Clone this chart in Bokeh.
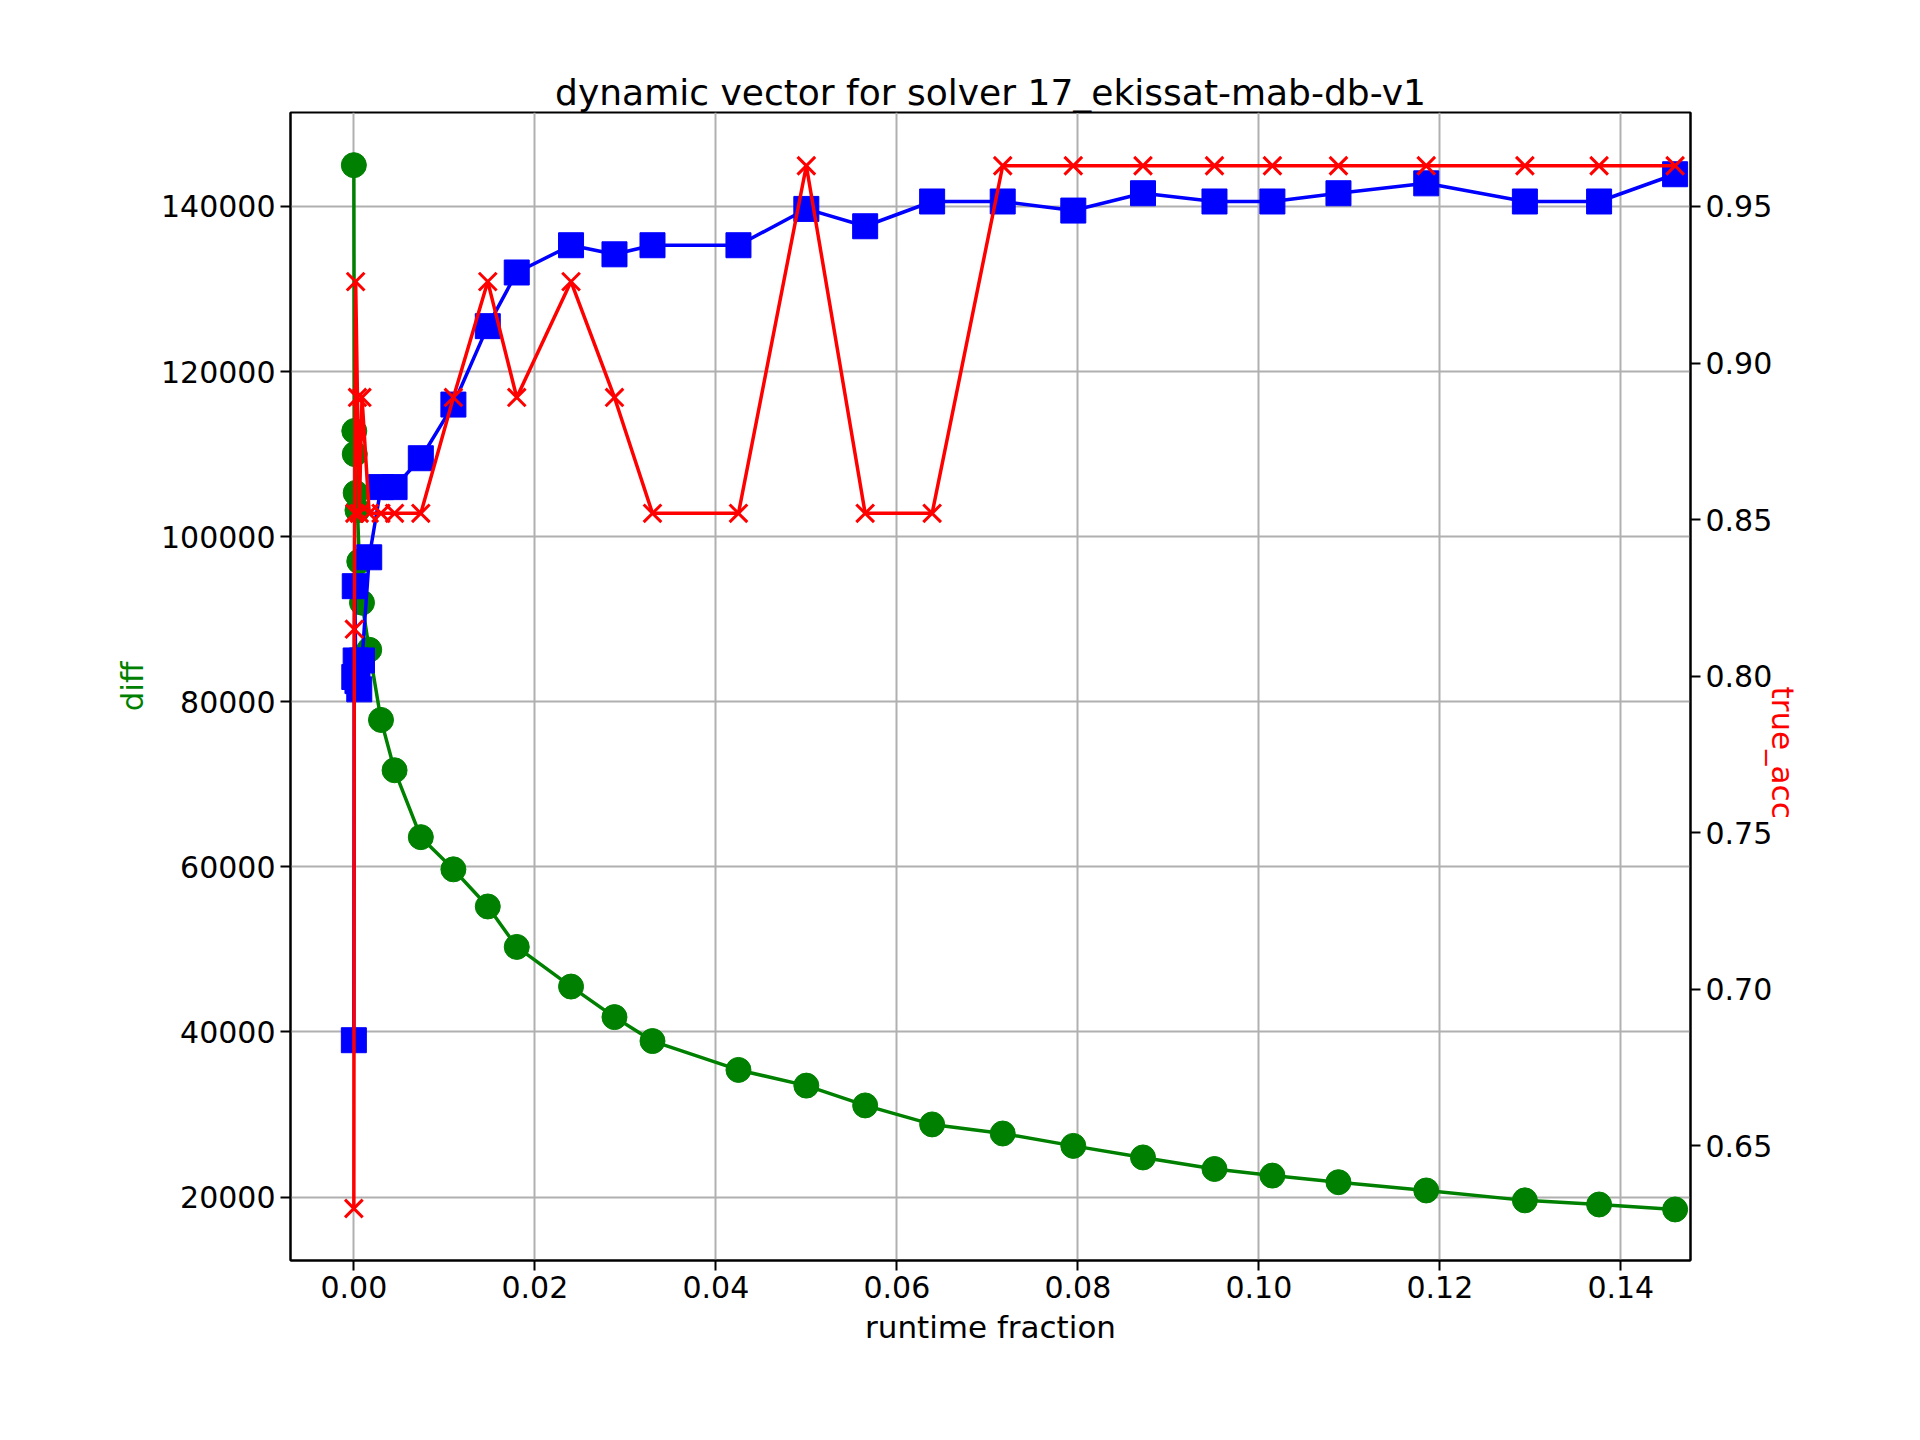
import math
from bokeh.plotting import figure
from bokeh.models import Range1d, LinearAxis, FixedTicker
from bokeh.embed import file_html
from bokeh.resources import INLINE

runtime = [0.0, 0.00005, 0.0001, 0.0002, 0.0004, 0.0006, 0.0009,
           0.0017, 0.003, 0.0045, 0.0074, 0.011, 0.0148, 0.018, 0.024, 0.0288,
           0.033, 0.0425, 0.05, 0.0565, 0.0639, 0.0717, 0.0795, 0.0872, 0.0951,
           0.1015, 0.1088, 0.1185, 0.1294, 0.1376, 0.146]
diff = [145000, 112800, 110000, 105300, 103200, 97000, 92000,
        86300, 77800, 71700, 63600, 59700, 55200, 50300, 45500, 41800,
        38900, 35400, 33500, 31100, 28800, 27700, 26200, 24800, 23400,
        22600, 21800, 20800, 19600, 19100, 18500]
pred = [39000, 83000, 94000, 85000, 82500, 81500, 85000,
        97500, 106000, 106000, 109500, 116000, 125500, 132000, 135300, 134200,
        135300, 135300, 139700, 137600, 140600, 140600, 139500, 141600, 140600,
        140600, 141600, 142800, 140600, 140600, 143900]
true_acc = [0.630, 0.815, 0.852, 0.926, 0.889, 0.852, 0.889,
            0.852, 0.852, 0.852, 0.852, 0.889, 0.926, 0.889, 0.926, 0.889,
            0.852, 0.852, 0.963, 0.852, 0.852, 0.963, 0.963, 0.963, 0.963,
            0.963, 0.963, 0.963, 0.963, 0.963, 0.963]

FONT = "DejaVu Sans"
p = figure(width=1900, height=1420, output_backend="svg", toolbar_location=None,
           title="dynamic vector for solver 17_ekissat-mab-db-v1",
           x_range=Range1d(-0.0070, 0.1477), y_range=Range1d(12316, 151380),
           x_axis_label="runtime fraction", y_axis_label="diff",
           min_border_left=290, min_border_right=210, min_border_top=112, min_border_bottom=160)
p.title.align = "center"
p.title.text_font = FONT
p.title.text_font_size = "36px"
p.title.text_font_style = "normal"
p.title.text_color = "black"
p.title.standoff = 0
p.extra_y_ranges = {"acc": Range1d(0.6134, 0.980)}

p.line(runtime, diff, color="green", line_width=3.5)
p.scatter(runtime, diff, color="green", size=25)
p.line(runtime, pred, color="blue", line_width=3.5)
p.scatter(runtime, pred, color="blue", marker="square", size=25)
p.line(runtime, true_acc, color="red", line_width=3.5, y_range_name="acc")
p.scatter(runtime, true_acc, color="red", marker="x", size=25, line_width=3, y_range_name="acc")

right = LinearAxis(y_range_name="acc", axis_label="true_acc")
right.ticker = FixedTicker(ticks=[0.65, 0.70, 0.75, 0.80, 0.85, 0.90, 0.95])
p.add_layout(right, "right")
p.xaxis.ticker = FixedTicker(ticks=[0, 0.02, 0.04, 0.06, 0.08, 0.10, 0.12, 0.14])
p.xaxis.major_label_overrides = {0: "0.00", 0.02: "0.02", 0.04: "0.04", 0.06: "0.06", 0.08: "0.08",
                                 0.1: "0.10", 0.12: "0.12", 0.14: "0.14"}
p.yaxis[0].ticker = FixedTicker(ticks=list(range(20000, 150000, 20000)))
right.major_label_overrides = {0.65: "0.65", 0.7: "0.70", 0.75: "0.75", 0.8: "0.80",
                               0.85: "0.85", 0.9: "0.90", 0.95: "0.95"}

for ax in p.axis:
    ax.major_label_text_font = FONT
    ax.major_label_text_font_size = "30px"
    ax.major_label_text_color = "black"
    ax.axis_label_text_font = FONT
    ax.axis_label_text_font_size = "31px"
    ax.axis_label_text_font_style = "normal"
    ax.axis_label_text_color = "black"
    ax.axis_label_standoff = 8
    ax.minor_tick_line_color = None
    ax.major_tick_in = 0
    ax.major_tick_out = 10
    ax.major_tick_line_width = 2
    ax.axis_line_width = 2
p.yaxis[0].axis_label_text_color = "green"
right.axis_label_text_color = "red"
right.axis_label_orientation = -math.pi / 2
p.yaxis[0].major_label_orientation = "horizontal"
right.major_label_orientation = "horizontal"
p.yaxis.formatter.use_scientific = False

p.grid.grid_line_color = "#b0b0b0"
p.grid.grid_line_width = 2
p.outline_line_color = "black"
p.outline_line_width = 2

open("out.html", "w").write(file_html(p, INLINE))
